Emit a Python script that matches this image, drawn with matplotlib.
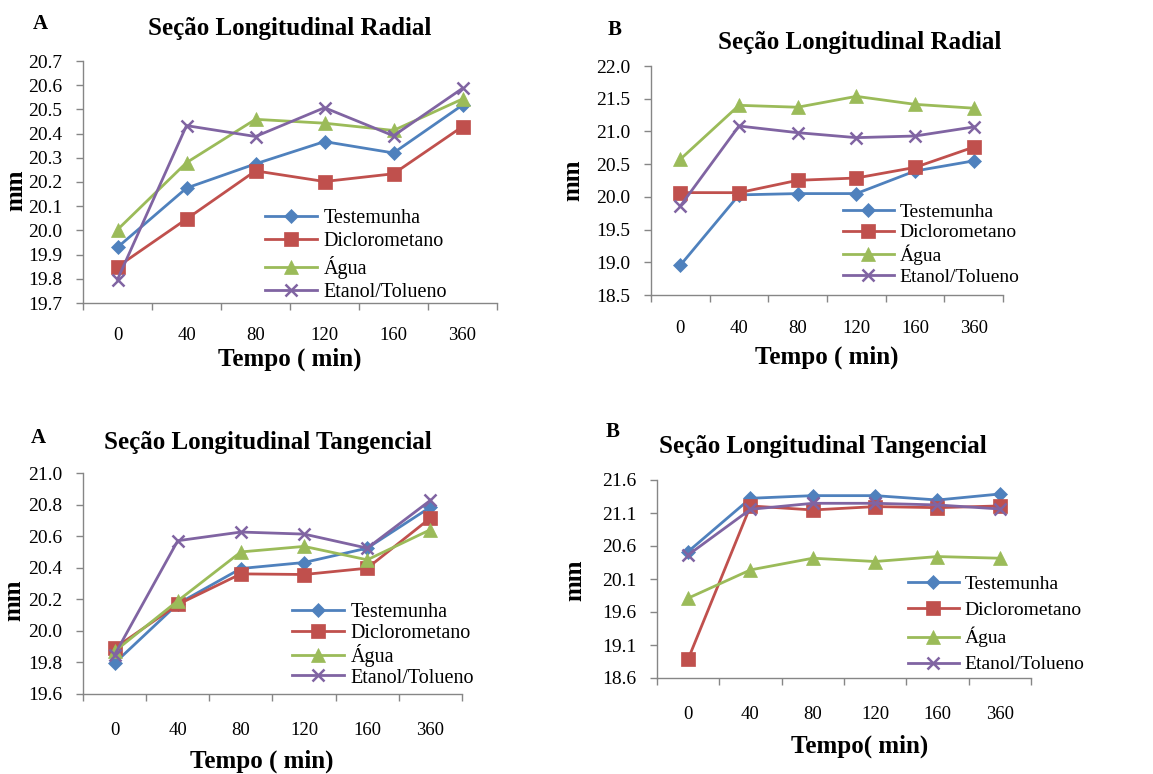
import numpy as np
import matplotlib
matplotlib.use('Agg')
import matplotlib.pyplot as plt

# tempo (min) - categorias do eixo x
tempos = ['0', '40', '80', '120', '160', '360']
series = ['Testemunha', 'Diclorometano', 'Água', 'Etanol/Tolueno']

# A - Radial
rad_a_test = [19.93, 20.175, 20.275, 20.367, 20.32, 20.518]
rad_a_dicl = [19.85, 20.047, 20.246, 20.202, 20.234, 20.429]
rad_a_agua = [20.003, 20.28, 20.459, 20.443, 20.413, 20.543]
rad_a_etan = [19.797, 20.433, 20.388, 20.507, 20.391, 20.587]

# B - Radial
rad_b_test = [18.955, 20.03, 20.05, 20.05, 20.395, 20.55]
rad_b_dicl = [20.065, 20.064, 20.253, 20.288, 20.45, 20.76]
rad_b_agua = [20.575, 21.399, 21.37, 21.536, 21.414, 21.355]
rad_b_etan = [19.86, 21.083, 20.981, 20.905, 20.93, 21.068]

# A - Tangencial
tan_a_test = [19.795, 20.171, 20.395, 20.433, 20.524, 20.784]
tan_a_dicl = [19.89, 20.167, 20.361, 20.357, 20.397, 20.715]
tan_a_agua = [19.87, 20.19, 20.5, 20.535, 20.45, 20.641]
tan_a_etan = [19.848, 20.571, 20.626, 20.613, 20.524, 20.827]

# B - Tangencial
tan_b_test = [20.516, 21.323, 21.363, 21.363, 21.297, 21.388]
tan_b_dicl = [18.887, 21.207, 21.146, 21.197, 21.181, 21.207]
tan_b_agua = [19.81, 20.238, 20.415, 20.365, 20.44, 20.415]
tan_b_etan = [20.465, 21.156, 21.247, 21.247, 21.222, 21.161]

cores = ['#4F81BD', '#C0504D', '#9BBB59', '#8064A2']
marcadores = ['D', 's', '^', 'x']
tamanhos = [7.5, 9.5, 9.5, 9]

W, H = 1153, 774
plt.rcParams['font.family'] = ['Liberation Serif', 'DejaVu Serif']
fig = plt.figure(figsize=(W / 100, H / 100), dpi=100)
fig.patch.set_facecolor('white')


def px(x, y):
    return x / W, 1 - y / H


def painel(x0, y0, x1, y1, dados, yticks, letra, letra_xy, titulo, titulo_xy,
           xlabel, xlabel_xy, ylabel_xy, leg_xy, leg_sp, leg_fs, xpad):
    ax = fig.add_axes([x0 / W, 1 - y1 / H, (x1 - x0) / W, (y1 - y0) / H])
    xs = np.arange(len(tempos))
    for vals, nome, c, m, ms in zip(dados, series, cores, marcadores, tamanhos):
        ax.plot(xs, vals, color=c, lw=2, marker=m, ms=ms, mew=1.8 if m == 'x' else 0.5,
                mec=c, mfc=c, label=nome)
    ax.set_xlim(-0.5, len(tempos) - 0.5)
    ax.set_ylim(yticks[0], yticks[-1])
    ax.set_yticks(yticks)
    ax.set_yticklabels(['%.1f' % v for v in yticks])
    ax.set_xticks(xs)
    ax.set_xticklabels(tempos)
    ax.set_xticks(np.arange(-0.5, len(tempos)), minor=True)
    ax.tick_params(axis='x', which='major', length=0, pad=xpad, labelsize=13.5)
    ax.tick_params(axis='x', which='minor', length=5, width=1, color='#868686', direction='out')
    ax.tick_params(axis='y', length=5, width=1, color='#868686', direction='out', pad=10, labelsize=14)
    for s in ['top', 'right']:
        ax.spines[s].set_visible(False)
    for s in ['left', 'bottom']:
        ax.spines[s].set_color('#868686')
        ax.spines[s].set_linewidth(1)
    fig.text(*px(*letra_xy), letra, fontsize=15, fontweight='bold', ha='center', va='center')
    fig.text(*px(*titulo_xy), titulo, fontsize=18, fontweight='bold', ha='center', va='center')
    fig.text(*px(*xlabel_xy), xlabel, fontsize=18, fontweight='bold', ha='center', va='center')
    fig.text(*px(*ylabel_xy), 'mm', fontsize=18, fontweight='bold', ha='center', va='center',
             rotation=90)
    ax.legend(loc='upper left', bbox_to_anchor=px(*leg_xy), bbox_transform=fig.transFigure,
              frameon=False, fontsize=leg_fs, borderpad=0, borderaxespad=0,
              handlelength=2.6, handletextpad=0.3, labelspacing=leg_sp)
    return ax


painel(83, 61, 497, 303,
       [rad_a_test, rad_a_dicl, rad_a_agua, rad_a_etan],
       np.round(np.arange(19.7, 20.75, 0.1), 1),
       'A', (40, 24), 'Seção Longitudinal Radial', (290, 29),
       'Tempo ( min)', (290, 359), (16, 190), (265, 209), 0.21, 14.5, 17)

painel(651, 66, 1003, 295,
       [rad_b_test, rad_b_dicl, rad_b_agua, rad_b_etan],
       np.round(np.arange(18.5, 22.05, 0.5), 1),
       'B', (615, 30), 'Seção Longitudinal Radial', (860, 43),
       'Tempo ( min)', (827, 357), (573, 180), (843, 203), 0.16, 14, 18)

painel(83, 473, 462, 694,
       [tan_a_test, tan_a_dicl, tan_a_agua, tan_a_etan],
       np.round(np.arange(19.6, 21.05, 0.2), 1),
       'A', (38, 438), 'Seção Longitudinal Tangencial', (268, 442),
       'Tempo ( min)', (262, 761), (14, 600), (292, 603), 0.07, 14.5, 20)

painel(657, 480, 1031, 678,
       [tan_b_test, tan_b_dicl, tan_b_agua, tan_b_etan],
       np.round(np.arange(18.6, 21.65, 0.5), 1),
       'B', (613, 432), 'Seção Longitudinal Tangencial', (823, 447),
       'Tempo( min)', (860, 746), (575, 580), (908, 575), 0.43, 14, 20)

fig.savefig('out.png', dpi=100, facecolor='white')
